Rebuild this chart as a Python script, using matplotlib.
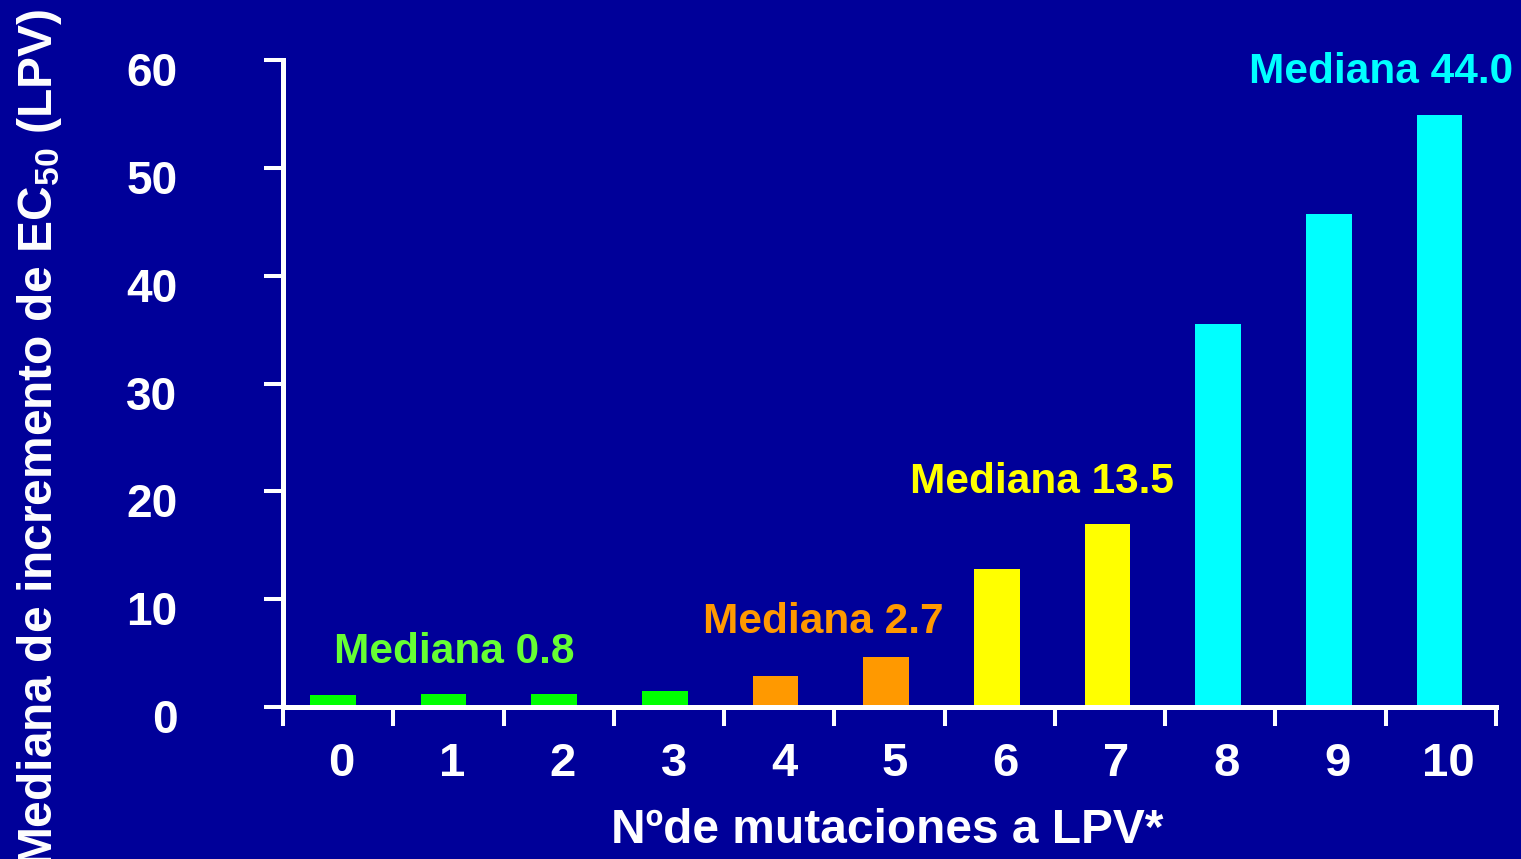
import matplotlib
matplotlib.use('Agg')
from matplotlib import pyplot as plt
from matplotlib.transforms import ScaledTranslation
import numpy as np

plt.rcParams['font.family'] = ['Liberation Sans', 'DejaVu Sans']
plt.rcParams['font.weight'] = 'bold'
plt.rcParams['mathtext.fontset'] = 'custom'
plt.rcParams['mathtext.rm'] = 'Liberation Sans:bold'
plt.rcParams['mathtext.bf'] = 'Liberation Sans:bold'
plt.rcParams['mathtext.default'] = 'bf'

# mutation counts and median fold change in EC50
mutations = list(range(11))
fold_change = [1.1, 1.25, 1.25, 1.5, 2.9, 4.6, 12.8, 17.0, 35.5, 45.7, 54.9]
bar_colors = ['#00ff00'] * 4 + ['#ff9900'] * 2 + ['#ffff00'] * 2 + ['#00ffff'] * 3

group_labels = ['Mediana 0.8', 'Mediana 2.7', 'Mediana 13.5', 'Mediana 44.0']
group_colors = ['#66ff33', '#ff9900', '#ffff00', '#00ffff']
group_pos = [(1.10, 4.1), (4.43, 6.86), (6.41, 19.85), (9.47, 57.9)]

bg = '#000099'
fig = plt.figure(figsize=(15.21, 8.59), dpi=100, facecolor=bg)
ax = fig.add_axes([283 / 1521, 1 - 707 / 859, 1213 / 1521, 647 / 859])
ax.set_facecolor(bg)

ax.bar(mutations, fold_change, width=0.415, color=bar_colors, zorder=1)

for txt, col, (x, y) in zip(group_labels, group_colors, group_pos):
    ax.text(x, y, txt, color=col, fontsize=30.5, fontweight='bold',
            ha='center', va='baseline')

ax.set_xlim(-0.45, 10.48)
ax.set_ylim(0, 60)

for s in ['top', 'right']:
    ax.spines[s].set_visible(False)
for s in ['left', 'bottom']:
    ax.spines[s].set_color('white')
    ax.spines[s].set_linewidth(3.6)
    ax.spines[s].set_zorder(3)

ax.set_yticks(np.arange(0, 61, 10))
ax.tick_params(axis='y', colors='white', length=14, width=2.9, pad=62,
               labelsize=33)
for lab in ax.get_yticklabels():
    lab.set_fontweight('bold')
    lab.set_transform(lab.get_transform() + ScaledTranslation(0, -0.09, fig.dpi_scale_trans))

# category labels sit between boundary ticks
ax.set_xticks([m + 0.08 for m in mutations])
ax.set_xticklabels([str(m) for m in mutations], fontweight='bold')
ax.set_xticks(-0.45 + 0.9964 * np.arange(12), minor=True)
ax.tick_params(axis='x', which='major', length=0, pad=25, colors='white',
               labelsize=34)
ax.tick_params(axis='x', which='minor', length=14, width=2.9, color='white')

fig.text(887 / 1521, 1 - 843 / 859, 'Nºde mutaciones a LPV*', color='white',
         fontsize=34.5, fontweight='bold', ha='center', va='baseline')
fig.text(40 / 1521, 0.49, 'Mediana de incremento de EC$_{50}$ (LPV)',
         color='white', fontsize=34.5, fontweight='bold', rotation=90,
         ha='center', va='center')

fig.savefig('out.png', dpi=100, facecolor=bg)
